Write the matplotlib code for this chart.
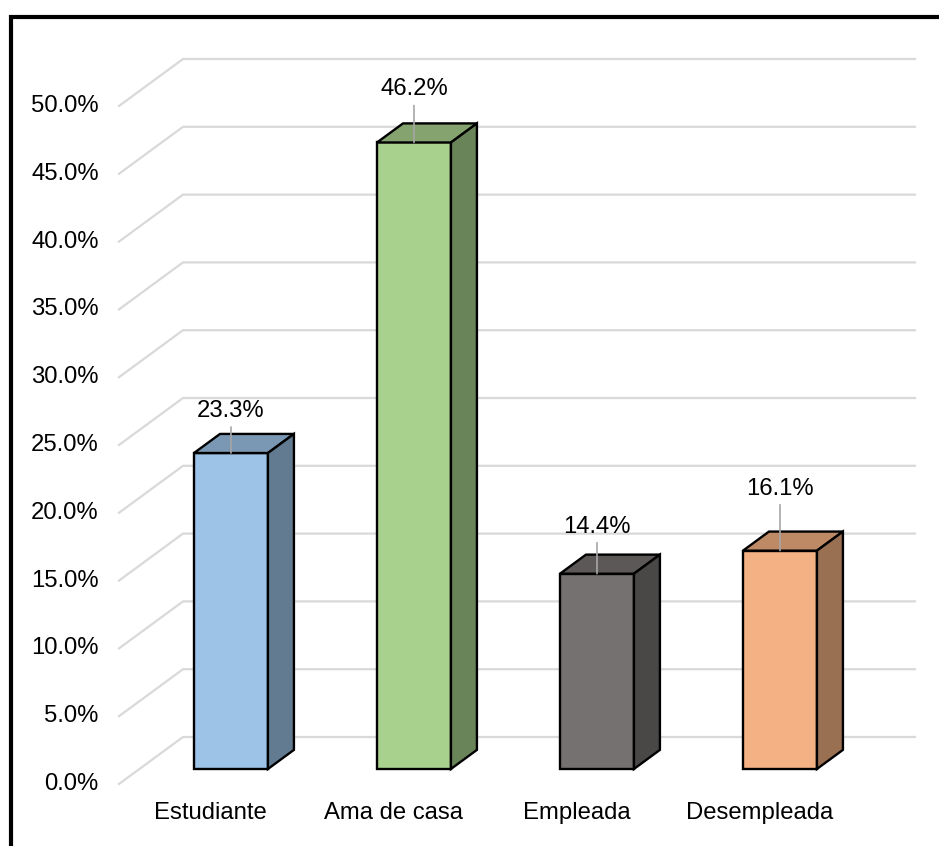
import matplotlib.pyplot as plt
from matplotlib.patches import Polygon
import numpy as np

plt.rcParams['font.family'] = ['Liberation Sans', 'DejaVu Sans']

# survey results (share of respondents by occupation)
categories = ['Estudiante', 'Ama de casa', 'Empleada', 'Desempleada']
values = [23.3, 46.2, 14.4, 16.1]
front_colors = ['#9DC3E6', '#A9D18E', '#767171', '#F4B183']
y_ticks = [0, 5, 10, 15, 20, 25, 30, 35, 40, 45, 50]
label_lift = [42, 53, 47, 62]  # px above bar top for the value labels

W, H = 939, 846
DPI = 100
FS = 17.2
PX_PER_CAT = 183.0
PX_PER_PCT = 13.56
# oblique depth: one floor depth = 64 px right, 47 px up
DX = 64 / PX_PER_CAT
DY = 47 / PX_PER_PCT
BAR_D0, BAR_D1 = 0.32, 0.726
BAR_HALF = 0.202

fig = plt.figure(figsize=(W / DPI, H / DPI), dpi=DPI)
ax = fig.add_axes([0, 0, 1, 1])
ax.set_xlim((0 - 210.5) / PX_PER_CAT, (W - 210.5) / PX_PER_CAT)
ax.set_ylim((784 - H) / PX_PER_PCT, 784 / PX_PER_PCT)
ax.axis('off')


def proj(x, y, d):
    return (x + d * DX, y + d * DY)


def shade(hexcol, k):
    c = np.array([int(hexcol[i:i + 2], 16) for i in (1, 3, 5)]) / 255.0
    return tuple(c * k)


# gridlines: left wall diagonal + back wall horizontal
x_left, x_right = -0.5, 3.5
for v in y_ticks:
    pts = [proj(x_left, v, 0), proj(x_left, v, 1), proj(x_right, v, 1)]
    xs, ys = zip(*pts)
    ax.plot(xs, ys, color='#D9D9D9', lw=1.6, solid_joinstyle='miter', zorder=1)
    ax.annotate(f'{v:.1f}%', xy=(x_left, v), xytext=(-14.5, 0),
                textcoords='offset points', ha='right', va='center',
                fontsize=FS, color='#000000')

# bars
for i, (cat, val, col) in enumerate(zip(categories, values, front_colors)):
    xl, xr = i - BAR_HALF, i + BAR_HALF
    front = [proj(xl, 0, BAR_D0), proj(xr, 0, BAR_D0),
             proj(xr, val, BAR_D0), proj(xl, val, BAR_D0)]
    top = [proj(xl, val, BAR_D0), proj(xr, val, BAR_D0),
           proj(xr, val, BAR_D1), proj(xl, val, BAR_D1)]
    side = [proj(xr, 0, BAR_D0), proj(xr, 0, BAR_D1),
            proj(xr, val, BAR_D1), proj(xr, val, BAR_D0)]
    for poly, fc in ((front, col), (top, shade(col, 0.78)), (side, shade(col, 0.63))):
        ax.add_patch(Polygon(poly, closed=True, facecolor=fc, edgecolor='black',
                             lw=1.7, joinstyle='miter', zorder=3))

    # value label with leader line
    cx, cy = proj(i, val, BAR_D0)
    lift_pt = label_lift[i] * 72 / DPI
    ax.annotate('', xy=(cx, cy), xytext=(0, lift_pt - 16 * 72 / DPI),
                textcoords='offset points',
                arrowprops=dict(arrowstyle='-', color='#A6A6A6', lw=1.2,
                                shrinkA=0, shrinkB=0), zorder=4)
    ax.annotate(f'{val:.1f}%', xy=(cx, cy), xytext=(0, lift_pt),
                textcoords='offset points', ha='center', va='center',
                fontsize=FS, zorder=5)

    # category label at the front edge of the floor
    ax.annotate(cat, xy=(i, 0), xytext=(0, -29 * 72 / DPI),
                textcoords='offset points', ha='center', va='center',
                fontsize=FS)

# chart border (only left and top edges fall inside the image)
fx = 10.5 / W
fy = 1 - 17.5 / H
fig.add_artist(plt.Line2D([fx, fx, 1.0], [0.0, fy, fy], transform=fig.transFigure,
                          color='black', lw=3.0, solid_joinstyle='miter'))

fig.savefig('out.png', dpi=DPI)
